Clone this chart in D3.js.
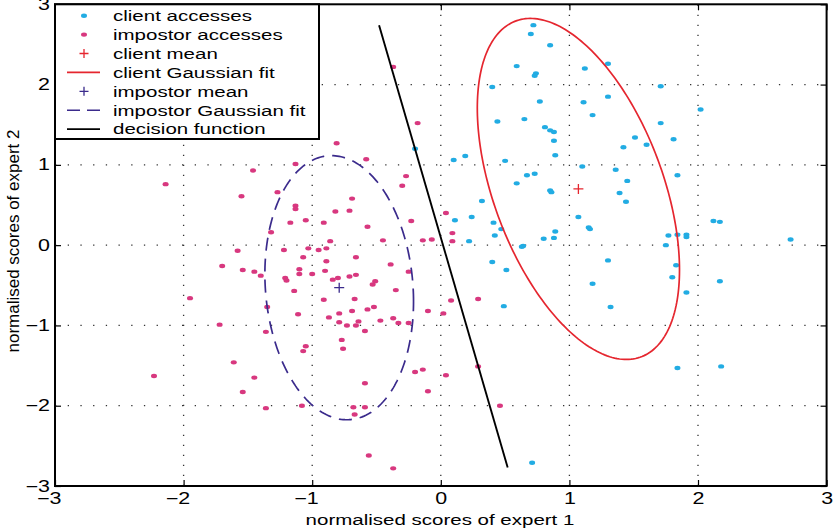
<!DOCTYPE html>
<html>
<head>
<meta charset="utf-8">
<script src="https://cdn.jsdelivr.net/npm/d3@7"></script>
<style>
  body { margin: 0; background: #fff; }
  text { font-family: "Liberation Sans", Arial, Helvetica, sans-serif; fill: #000; }
</style>
</head>
<body>
<svg id="chart" width="833" height="532"></svg>
<script>
// Scores of the two experts for genuine client accesses
const clientAccesses = [
  [0.72,2.74],[0.70,2.63],[0.85,2.49],[1.30,2.26],[1.12,2.20],[0.59,2.23],[0.74,2.14],[0.73,2.11],
  [0.40,1.97],[1.30,1.85],[0.77,1.79],[1.11,1.78],[1.18,1.62],[0.44,1.54],[0.65,1.57],[0.81,1.47],
  [0.85,1.43],[0.88,1.41],[0.88,1.30],[1.51,1.34],[1.42,1.22],[0.89,1.12],[0.10,1.06],[0.19,1.11],
  [0.50,1.05],[1.10,0.98],[1.36,0.94],[0.67,0.87],[0.73,0.89],[0.59,0.77],[1.45,0.80],[0.85,0.68],
  [0.86,0.66],[1.39,0.65],[1.44,0.54],[0.32,0.55],[0.11,0.31],[0.24,0.35],[0.41,0.28],[0.47,0.20],
  [0.42,0.12],[1.07,0.35],[1.15,0.22],[1.16,0.20],[0.89,0.17],[0.88,0.09],[0.80,0.08],[0.22,0.05],
  [0.64,-0.01],[0.63,-0.02],[-0.20,1.20],[0.40,-0.21],[0.51,-0.31],[1.30,-0.19],[1.18,-0.48],[0.49,-0.76],
  [1.32,-0.77],[0.71,-2.71],[1.71,1.98],[2.02,1.69],[1.71,1.52],[1.60,1.25],[1.81,1.32],[1.84,0.87],
  [2.12,0.30],[2.17,0.29],[1.77,0.12],[1.84,0.13],[1.91,0.13],[1.91,0.10],[1.75,0.00],[2.72,0.07],
  [1.83,-0.25],[1.80,-0.40],[1.91,-0.59],[2.17,-0.45],[1.84,-1.53],[2.18,-1.51]
];

// Scores of the two experts for impostor accesses
const impostorAccesses = [
  [-0.37,2.22],[-0.18,1.52],[-0.81,1.27],[-0.58,1.07],[-1.13,1.01],[-1.46,0.93],[-2.14,0.76],[-1.55,0.61],
  [-0.27,0.86],[-0.30,0.74],[-1.27,0.66],[-1.13,0.49],[-1.13,0.45],[-0.69,0.58],[-0.71,0.43],[-0.82,0.42],
  [-1.05,0.31],[-1.17,0.28],[-0.91,0.28],[-0.23,0.30],[-0.57,0.23],[-1.32,0.16],[-0.86,0.05],[-0.45,0.06],
  [-1.03,-0.04],[-0.95,-0.06],[-0.89,-0.04],[-1.22,-0.06],[-1.58,-0.07],[-1.07,-0.15],[-0.66,-0.15],[-1.70,-0.26],
  [-1.54,-0.31],[-1.45,-0.33],[-1.40,-0.38],[-1.10,-0.30],[-1.10,-0.36],[-1.00,-0.36],[-0.89,-0.20],[-0.90,-0.32],
  [-1.21,-0.41],[-1.20,-0.44],[-0.80,-0.41],[-0.84,-0.43],[-0.71,-0.39],[-0.66,-0.37],[-0.39,-0.24],[-0.25,-0.33],
  [-0.53,-0.49],[-0.51,-0.45],[-0.35,-0.56],[-1.14,-0.57],[-1.95,-0.66],[-0.91,-0.68],[-0.67,-0.67],[-1.35,-0.77],
  [-0.69,-0.82],[-0.57,-0.80],[-0.52,-0.77],[-1.11,-0.86],[-0.87,-0.90],[-0.79,-0.85],[-0.47,-0.94],[-0.37,-0.91],
  [-0.33,-0.97],[-0.25,-0.97],[-0.79,-0.96],[-0.73,-1.00],[-0.66,-1.00],[-0.64,-0.95],[-1.72,-0.99],[-1.36,-1.08],
  [-0.59,-1.07],[-0.77,-1.18],[-0.76,-1.29],[-1.05,-1.26],[-1.07,-1.32],[-1.61,-1.46],[-0.20,-1.58],[-2.23,-1.63],
  [-1.45,-1.65],[-0.59,-1.72],[-1.54,-1.83],[-1.08,-2.00],[-1.36,-2.03],[-0.68,-2.02],[-0.59,-2.02],[-0.67,-2.11],
  [-0.56,-2.62],[-0.37,-2.78],[-0.10,-0.82],[0.02,-0.85],[0.08,-0.69],[0.29,-0.67],[-0.14,-1.55],[0.04,-1.62],
  [0.29,-1.51],[-0.10,-1.82],[0.46,-2.00],[0.04,0.40],[0.09,0.15],[0.09,0.05],[-0.14,0.06],[-0.07,0.07]
];

const clientMean = [1.07, 0.70];
const impostorMean = [-0.79, -0.53];

// Shape matrices of the drawn Gaussian contours (scaled covariances)
const clientFitShape = [[0.618, -0.792], [-0.792, 4.511]];
const impostorFitShape = [[0.334, -0.099], [-0.099, 2.706]];

// Linear decision boundary, two end points
const decisionFunction = [[-0.48, 2.74], [0.52, -2.77]];

const xTicks = [-3, -2, -1, 0, 1, 2, 3];
const yTicks = [-3, -2, -1, 0, 1, 2, 3];
const xLabel = "normalised scores of expert 1";
const yLabel = "normalised scores of expert 2";
const legendLabels = [
  "client accesses", "impostor accesses", "client mean", "client Gaussian fit",
  "impostor mean", "impostor Gaussian fit", "decision function"
];

// ---- styling ----
const colors = {
  client: "#22ace3",
  impostor: "#d8387f",
  clientFit: "#e5262f",
  impostorFit: "#3b2b8c",
  decision: "#000000"
};
const textStretch = 1.34;

const svg = d3.select("#chart");
const W = 833, H = 532;
const plot = { left: 55, right: 826.6, top: 4.3, bottom: 486 };

const x = d3.scaleLinear().domain([-3, 3]).range([plot.left, plot.right]);
const y = d3.scaleLinear().domain([-3, 3]).range([plot.bottom, plot.top]);

svg.append("rect").attr("width", W).attr("height", H).attr("fill", "#fff");

// dotted grid
const grid = svg.append("g").attr("stroke", "#333").attr("stroke-width", 1.3);
grid.selectAll("line.gx").data(xTicks.slice(1, -1)).join("line")
  .attr("x1", d => x(d)).attr("x2", d => x(d))
  .attr("y1", plot.bottom).attr("y2", plot.top)
  .attr("stroke-dasharray", "1.3,8.7");
grid.selectAll("line.gy").data(yTicks.slice(1, -1)).join("line")
  .attr("y1", d => y(d)).attr("y2", d => y(d))
  .attr("x1", plot.left).attr("x2", plot.right)
  .attr("stroke-dasharray", "1.3,11.4");

// axes: ticks pointing inside the box
const fontSize = 16;
const xAxis = svg.append("g").attr("transform", `translate(0,${plot.bottom})`)
  .call(d3.axisBottom(x).tickValues(xTicks).tickSizeInner(-6).tickSizeOuter(0).tickPadding(7)
    .tickFormat(d => d < 0 ? "\u2212" + Math.abs(d) : String(d)));
xAxis.selectAll("text")
  .attr("font-size", fontSize)
  .attr("transform", `scale(${textStretch},1)`)
  .attr("dx", d => d < 0 ? "-0.292em" : 0);

const yAxis = svg.append("g").attr("transform", `translate(${plot.left},0)`)
  .call(d3.axisLeft(y).tickValues(yTicks).tickSizeInner(-6).tickSizeOuter(0).tickPadding(5)
    .tickFormat(d => d < 0 ? "\u2212" + Math.abs(d) : String(d)));
yAxis.selectAll("text")
  .attr("font-size", fontSize)
  .attr("x", -5 / textStretch)
  .attr("transform", `scale(${textStretch},1)`);

svg.append("g").attr("transform", `translate(0,${plot.top})`)
  .call(d3.axisTop(x).tickValues(xTicks).tickSizeInner(-6).tickSizeOuter(0).tickFormat(""));
svg.append("g").attr("transform", `translate(${plot.right},0)`)
  .call(d3.axisRight(y).tickValues(yTicks).tickSizeInner(-6).tickSizeOuter(0).tickFormat(""));

svg.selectAll(".domain").remove();
svg.selectAll(".tick line").attr("stroke", "#000").attr("stroke-width", 1.2);
svg.selectAll(".tick text").attr("font-family", "Liberation Sans, Arial, sans-serif").attr("fill", "#000");

// scatter of accesses
const marks = svg.append("g");
marks.selectAll("ellipse.client").data(clientAccesses).join("ellipse")
  .attr("cx", d => x(d[0])).attr("cy", d => y(d[1]))
  .attr("rx", 3).attr("ry", 2.2).attr("fill", colors.client);
marks.selectAll("ellipse.impostor").data(impostorAccesses).join("ellipse")
  .attr("cx", d => x(d[0])).attr("cy", d => y(d[1]))
  .attr("rx", 3).attr("ry", 2.2).attr("fill", colors.impostor);

// Gaussian contour from mean and shape matrix (Cholesky factor)
function ellipsePoints(mean, S, n = 240) {
  const l11 = Math.sqrt(S[0][0]);
  const l21 = S[1][0] / l11;
  const l22 = Math.sqrt(S[1][1] - l21 * l21);
  return d3.range(n).map(i => {
    const t = 2 * Math.PI * i / n;
    const u = Math.cos(t), v = Math.sin(t);
    return [mean[0] + l11 * u, mean[1] + l21 * u + l22 * v];
  });
}
const curve = d3.line().x(d => x(d[0])).y(d => y(d[1])).curve(d3.curveLinearClosed);

const plusPath = s => `M${-s},0H${s}M0,${-s}V${s}`;

// client mean and fit
svg.append("path").attr("d", plusPath(5))
  .attr("transform", `translate(${x(clientMean[0])},${y(clientMean[1])})`)
  .attr("stroke", colors.clientFit).attr("stroke-width", 1.3).attr("fill", "none");
svg.append("path").attr("d", curve(ellipsePoints(clientMean, clientFitShape)))
  .attr("fill", "none").attr("stroke", colors.clientFit).attr("stroke-width", 1.7);

// impostor mean and fit
svg.append("path").attr("d", plusPath(5))
  .attr("transform", `translate(${x(impostorMean[0])},${y(impostorMean[1])})`)
  .attr("stroke", colors.impostorFit).attr("stroke-width", 1.3).attr("fill", "none");
svg.append("path").attr("d", curve(ellipsePoints(impostorMean, impostorFitShape)))
  .attr("fill", "none").attr("stroke", colors.impostorFit).attr("stroke-width", 1.7)
  .attr("stroke-dasharray", "13,8");

// decision function
svg.append("path")
  .attr("d", d3.line().x(d => x(d[0])).y(d => y(d[1]))(decisionFunction))
  .attr("stroke", colors.decision).attr("stroke-width", 1.9).attr("fill", "none");

// box
svg.append("rect")
  .attr("x", plot.left).attr("y", plot.top)
  .attr("width", plot.right - plot.left).attr("height", plot.bottom - plot.top)
  .attr("fill", "none").attr("stroke", "#000").attr("stroke-width", 2);

// axis titles
svg.append("g").attr("transform", `translate(440,525) scale(${textStretch},1)`)
  .append("text").attr("text-anchor", "middle").attr("font-size", 15.3).text(xLabel);
svg.append("text").attr("transform", "translate(19,241) rotate(-90)")
  .attr("text-anchor", "middle").attr("font-size", 17).text(yLabel);

// legend
const legend = svg.append("g");
legend.append("rect").attr("x", 55).attr("y", 4.3).attr("width", 264).attr("height", 134.7)
  .attr("fill", "#fff").attr("stroke", "#000").attr("stroke-width", 2);

const legendStyles = [
  { kind: "dot", color: colors.client },
  { kind: "dot", color: colors.impostor },
  { kind: "plus", color: colors.clientFit },
  { kind: "line", color: colors.clientFit },
  { kind: "plus", color: colors.impostorFit },
  { kind: "dash", color: colors.impostorFit },
  { kind: "line", color: colors.decision }
];
const rowY = i => 15.7 + i * 18.9;
const rows = legend.selectAll("g.row").data(legendLabels).join("g")
  .attr("transform", (d, i) => `translate(0,${rowY(i)})`);
rows.each(function (d, i) {
  const g = d3.select(this);
  const st = legendStyles[i];
  if (st.kind === "dot") {
    g.append("ellipse").attr("cx", 84).attr("cy", 0).attr("rx", 3).attr("ry", 2.2).attr("fill", st.color);
  } else if (st.kind === "plus") {
    g.append("path").attr("d", plusPath(4.5)).attr("transform", "translate(84,0)")
      .attr("stroke", st.color).attr("stroke-width", 1.3).attr("fill", "none");
  } else {
    g.append("line").attr("x1", 67).attr("x2", 100).attr("y1", 0).attr("y2", 0)
      .attr("stroke", st.color).attr("stroke-width", 1.6)
      .attr("stroke-dasharray", st.kind === "dash" ? "13,7" : null);
  }
  g.append("g").attr("transform", `translate(113,0) scale(${textStretch},1)`)
    .append("text").attr("dy", "0.35em").attr("font-size", 15.3).text(d);
});
</script>
</body>
</html>
